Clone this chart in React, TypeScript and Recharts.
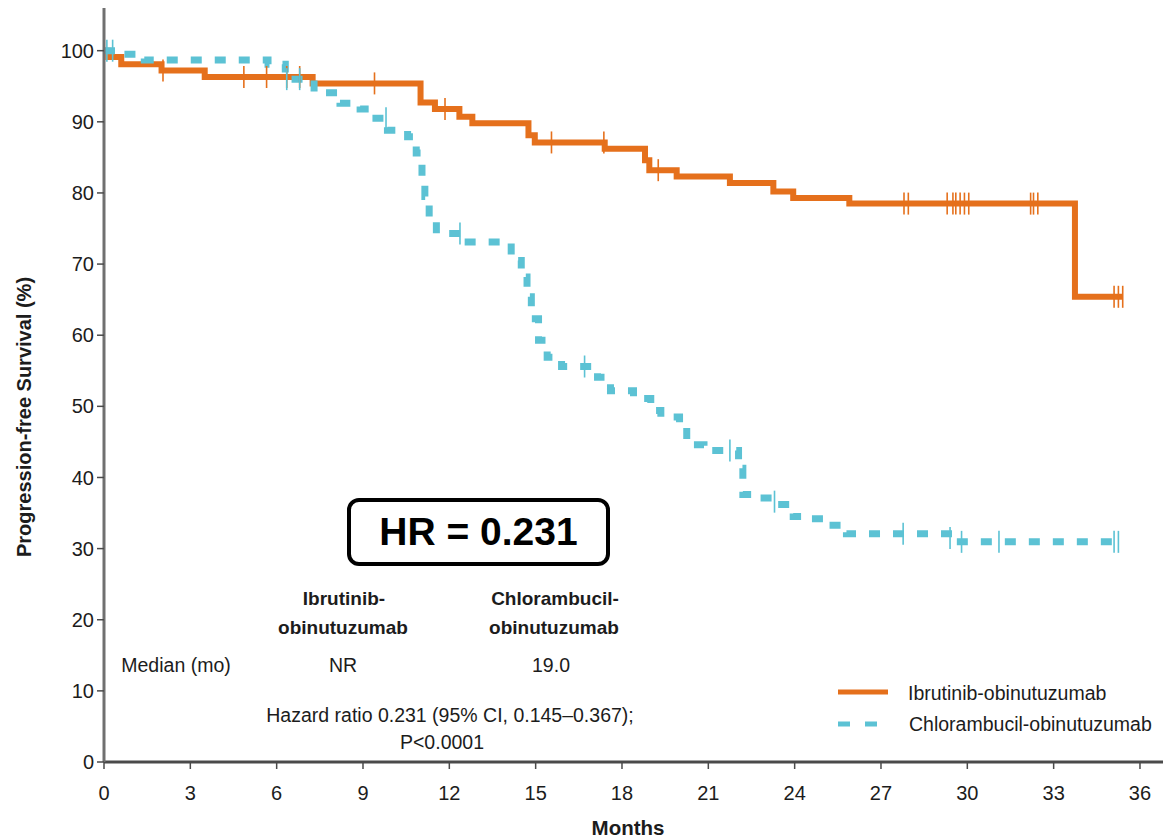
import { ComposedChart, Line, XAxis, YAxis } from "recharts";

const FONT = '"Liberation Sans", Arial, Helvetica, sans-serif';
const ORANGE = "#E5701C";
const CYAN = "#5CC2D4";
const TEXT = "#1c1c1c";

const xTicks = [0, 3, 6, 9, 12, 15, 18, 21, 24, 27, 30, 33, 36];
const yTicks = [0, 10, 20, 30, 40, 50, 60, 70, 80, 90, 100];

// Ibrutinib-obinutuzumab KM steps (months, %)
const ibrTime = [0, 0.15, 0.6, 2.0, 3.5, 7.25, 11.0, 11.5, 12.35, 12.8, 14.75, 14.97, 17.4, 18.8, 18.95, 19.9, 21.75, 23.26, 23.95, 25.9, 33.74, 35.4];
const ibrPct = [100, 99.1, 98.1, 97.2, 96.3, 95.4, 92.7, 91.8, 90.7, 89.8, 88.1, 87.1, 86.2, 84.6, 83.2, 82.3, 81.4, 80.2, 79.3, 78.5, 65.4, 65.4];

// Chlorambucil-obinutuzumab KM steps
const chlTime = [0, 0.6, 1.4, 5.7, 6.3, 7.3, 8.2, 8.9, 9.45, 9.85, 10.55, 10.85, 11.05, 11.15, 11.3, 11.55, 12.5, 14.15, 14.5, 14.7, 14.85, 15.1, 15.4, 15.9, 17.15, 17.6, 18.4, 19.0, 19.35, 20.0, 20.25, 20.85, 22.05, 22.2, 22.7, 23.35, 23.95, 24.6, 25.15, 25.8, 29.5, 35.3];
const chlPct = [100, 99.5, 98.7, 98.1, 96.0, 94.1, 92.6, 91.8, 90.5, 88.8, 87.9, 85.6, 82.4, 79.5, 76.5, 74.3, 73.1, 70.5, 68.2, 65.4, 62.3, 59.3, 56.9, 55.6, 54.1, 52.2, 51.1, 49.4, 48.5, 47.2, 44.6, 43.8, 41.3, 37.6, 37.1, 36.2, 34.5, 34.2, 33.3, 32.1, 30.95, 30.95];

// censored observations
const ibrCensorTime = [2.05, 4.86, 5.65, 6.35, 6.8, 9.4, 11.85, 15.55, 17.37, 19.26, 27.8, 27.95, 29.3, 29.5, 29.6, 29.75, 29.9, 30.05, 32.2, 32.3, 32.45, 35.1, 35.25, 35.4];
const ibrCensorPct = [97.2, 96.3, 96.3, 96.3, 96.3, 95.4, 91.8, 87.1, 87.1, 83.2, 78.5, 78.5, 78.5, 78.5, 78.5, 78.5, 78.5, 78.5, 78.5, 78.5, 78.5, 65.4, 65.4, 65.4];
const chlCensorTime = [0.1, 0.3, 6.35, 6.8, 9.8, 12.37, 16.7, 21.75, 23.3, 27.77, 29.4, 29.8, 31.1, 35.1, 35.25];
const chlCensorPct = [100, 100, 96.0, 96.0, 90.5, 74.3, 55.6, 43.8, 36.6, 32.1, 31.5, 30.95, 30.95, 30.95, 30.95];

const rows = (t: number[], v: number[]) => t.map((x, i) => ({ t: x, v: v[i] }));
const ibrData = rows(ibrTime, ibrPct);
const chlData = rows(chlTime, chlPct);
const ibrCensor = rows(ibrCensorTime, ibrCensorPct);
const chlCensor = rows(chlCensorTime, chlCensorPct);

const censorDot = (color: string) => (props: any) => {
  const { cx, cy, index } = props;
  if (cx == null || cy == null) return <g key={`c-${index}`} />;
  return (
    <line
      key={`c-${index}`}
      x1={cx}
      x2={cx}
      y1={cy - 11}
      y2={cy + 11}
      stroke={color}
      strokeWidth={1.6}
    />
  );
};

const tickStyle = { fontSize: 20, fill: TEXT, fontFamily: FONT };

const centered = (x: number, y: number, extra: React.CSSProperties = {}): React.CSSProperties => ({
  position: "absolute",
  left: x,
  top: y,
  transform: "translate(-50%, -50%)",
  whiteSpace: "nowrap",
  fontFamily: FONT,
  color: TEXT,
  fontSize: 19.5,
  lineHeight: 1,
  ...extra,
});

export default function App() {
  return (
    <div style={{ position: "absolute", left: 0, top: 0, width: 1170, height: 840, background: "#fff" }}>
      <ComposedChart width={1170} height={840} margin={{ top: 8, right: 7, left: 44, bottom: 30 }}>
        <XAxis
          type="number"
          dataKey="t"
          domain={[0, 36.8]}
          ticks={xTicks}
          allowDataOverflow
          height={48}
          tick={tickStyle}
          tickSize={7}
          tickMargin={17}
          axisLine={{ stroke: "#4a4a4a", strokeWidth: 3 }}
          tickLine={{ stroke: "#4a4a4a", strokeWidth: 1.5 }}
        />
        <YAxis
          type="number"
          domain={[0, 106]}
          ticks={yTicks}
          allowDataOverflow
          width={60}
          tick={tickStyle}
          tickSize={7}
          tickMargin={3}
          axisLine={{ stroke: "#707070", strokeWidth: 3 }}
          tickLine={{ stroke: "#4a4a4a", strokeWidth: 1.5 }}
        />
        <Line
          data={ibrData}
          dataKey="v"
          type="stepAfter"
          stroke={ORANGE}
          strokeWidth={6}
          dot={false}
          activeDot={false}
          isAnimationActive={false}
        />
        <Line
          data={ibrCensor}
          dataKey="v"
          stroke="none"
          dot={censorDot(ORANGE)}
          activeDot={false}
          isAnimationActive={false}
        />
        <Line
          data={chlData}
          dataKey="v"
          type="stepAfter"
          stroke={CYAN}
          strokeWidth={7}
          strokeDasharray="11 13"
          dot={false}
          activeDot={false}
          isAnimationActive={false}
        />
        <Line
          data={chlCensor}
          dataKey="v"
          stroke="none"
          dot={censorDot(CYAN)}
          activeDot={false}
          isAnimationActive={false}
        />
      </ComposedChart>

      {/* axis titles */}
      <div style={centered(24, 417, { transform: "translate(-50%, -50%) rotate(-90deg)", fontWeight: 700, fontSize: 20 })}>
        Progression-free Survival (%)
      </div>
      <div style={centered(628, 828, { fontWeight: 700, fontSize: 20.5 })}>Months</div>

      {/* HR box */}
      <div
        style={{
          position: "absolute",
          left: 347,
          top: 498,
          width: 255,
          height: 60,
          border: "4px solid #000",
          borderRadius: 12,
          display: "flex",
          alignItems: "center",
          justifyContent: "center",
          fontFamily: FONT,
          fontWeight: 700,
          fontSize: 39,
          color: "#000",
        }}
      >
        HR = 0.231
      </div>

      {/* median table */}
      <div style={centered(344, 598, { fontWeight: 700, fontSize: 19 })}>Ibrutinib-</div>
      <div style={centered(343, 627, { fontWeight: 700, fontSize: 19 })}>obinutuzumab</div>
      <div style={centered(555, 598, { fontWeight: 700, fontSize: 19 })}>Chlorambucil-</div>
      <div style={centered(554, 627, { fontWeight: 700, fontSize: 19 })}>obinutuzumab</div>
      <div style={centered(176, 666)}>Median (mo)</div>
      <div style={centered(343, 666)}>NR</div>
      <div style={centered(551, 666)}>19.0</div>
      <div style={centered(450, 716)}>Hazard ratio 0.231 (95% CI, 0.145–0.367);</div>
      <div style={centered(442, 743)}>P&lt;0.0001</div>

      {/* legend */}
      <svg style={{ position: "absolute", left: 830, top: 680 }} width={70} height={60}>
        <line x1={8} x2={58} y1={12} y2={12} stroke={ORANGE} strokeWidth={5} />
        <line x1={8} x2={60} y1={44} y2={44} stroke={CYAN} strokeWidth={5} strokeDasharray="12 15" />
      </svg>
      <div style={{ ...centered(908, 694), transform: "translate(0, -50%)" }}>Ibrutinib-obinutuzumab</div>
      <div style={{ ...centered(909, 725), transform: "translate(0, -50%)" }}>Chlorambucil-obinutuzumab</div>
    </div>
  );
}
